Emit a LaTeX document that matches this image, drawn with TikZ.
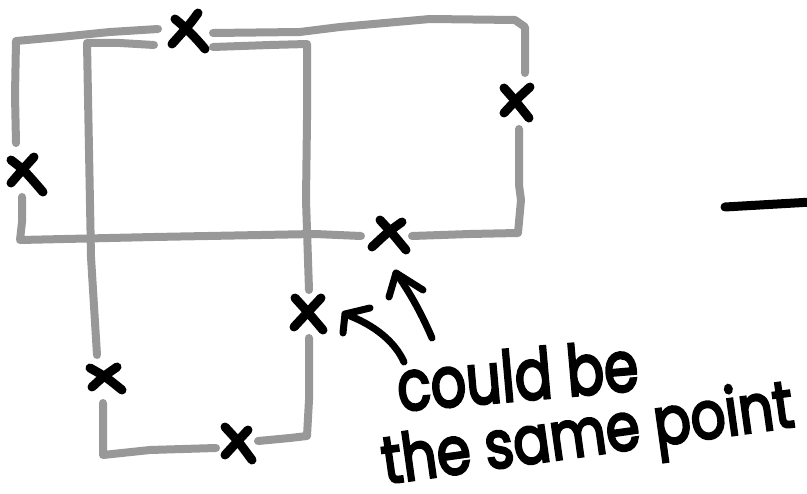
\documentclass[tikz,border=0pt]{standalone}
\usepackage{fontspec}
\setmainfont{Poppins}
\newfontfamily\handfont{Poppins}[FakeBold=4]
\definecolor{boxgray}{RGB}{152,152,152}
\begin{document}
\begin{tikzpicture}[x=1pt,y=-1pt,
  box/.style={draw=boxgray,line width=8pt,line cap=round,line join=round},
  ink/.style={draw=black,line width=9pt,line cap=round,line join=round},
  pen/.style={draw=black,line width=7pt,line cap=round,line join=round},
  hand/.style={inner sep=0pt, text=black, anchor=base west}]
\useasboundingbox (0,0) rectangle (807,494);
% rectangle A (wide)
\draw[box] (16,143) -- (15,95) -- (16,41) -- (60,37) -- (110,32) -- (158,29);
\draw[box] (213,33) -- (300,32) -- (340,27) -- (430,19) -- (515,20) -- (525,27) -- (525,73);
\draw[box] (519,129) -- (519,185) -- (521,200) -- (518,233) -- (470,234) -- (412,236);
\draw[box] (361,236) -- (315,234) -- (154,237) -- (20,240) -- (22,222) -- (22,197);
% rectangle B (tall)
\draw[box] (97,355) -- (91,257) -- (87,43) -- (120,43) -- (154,45);
\draw[box] (213,47) -- (270,45) -- (307,44) -- (307,120) -- (306,200) -- (309,290);
\draw[box] (309,338) -- (309,400) -- (307,436) -- (290,438) -- (258,441);
\draw[box] (216,448) -- (150,450) -- (103,455) -- (103,420) -- (103,403);
% X marks
\coordinate (xtop) at (189,32);
\coordinate (xright) at (516,103);
\coordinate (xleft) at (27,175);
\coordinate (xbota) at (390,235);
\coordinate (xbr) at (309,313);
\coordinate (xbl) at (106,378);
\coordinate (xbb) at (238,443);
\draw[ink] (175,19) .. controls (186,28) and (196,38) .. (205,49);
\draw[ink] (198,13) .. controls (190,24) .. (172,44);
\draw[ink] (504,88) .. controls (513,98) .. (529,118);
\draw[ink] (530,87) .. controls (518,98) .. (504,113);
\draw[ink] (11,160) .. controls (24,170) .. (43,192);
\draw[ink] (34,157) .. controls (24,168) .. (11,183);
\draw[ink] (380,220) .. controls (392,233) .. (406,250);
\draw[ink] (402,222) .. controls (388,232) .. (372,247);
\draw[ink] (295,298) .. controls (306,310) .. (323,330);
\draw[ink] (321,298) .. controls (308,312) .. (294,327);
\draw[ink] (90,368) .. controls (106,377) .. (122,390);
\draw[ink] (117,367) .. controls (104,376) .. (92,387);
\draw[ink] (225,427) .. controls (238,441) .. (252,460);
\draw[ink] (248,430) .. controls (236,442) .. (225,455);
% arrows
\coordinate (a1s) at (404,362);
\coordinate (a1t) at (345,314);
\coordinate (a2s) at (432,338);
\coordinate (a2t) at (396,273);
\draw[pen] (a1s) .. controls (395,342) and (375,325) .. (a1t);
\draw[pen] (343,333) -- (a1t) -- (370,308);
\draw[pen] (a2s) .. controls (420,310) and (408,290) .. (a2t);
\draw[pen] (389,297) -- (a2t) -- (423,290);
% text
\node[hand, font=\handfont\fontsize{70}{70}\selectfont, rotate=5, xscale=0.79] (t1) at (399,411) {could be};
\node[hand, font=\handfont\fontsize{66}{66}\selectfont, rotate=8, xscale=0.83] (t2) at (385,484) {the same point};
% short line
\draw[ink] (725,207) -- (812,202);
\end{tikzpicture}
\end{document}
